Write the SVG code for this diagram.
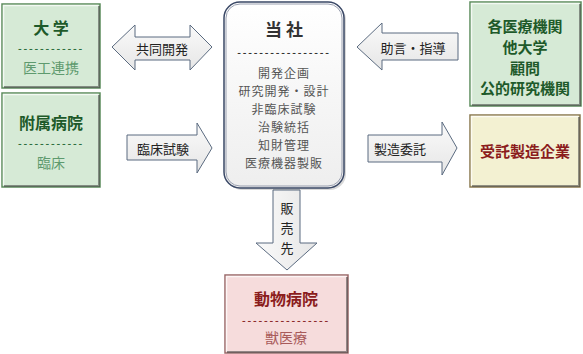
<svg xmlns="http://www.w3.org/2000/svg" width="583" height="354" viewBox="0 0 583 354">
<defs>
<linearGradient id="gArrow" x1="0" y1="0" x2="0" y2="1"><stop offset="0" stop-color="#fafafa"/><stop offset="1" stop-color="#e6e6e6"/></linearGradient>
<linearGradient id="gArrowV" x1="0" y1="0" x2="1" y2="0"><stop offset="0" stop-color="#fafafa"/><stop offset="1" stop-color="#e6e6e6"/></linearGradient>
<linearGradient id="gCo" x1="0" y1="0" x2="0" y2="1"><stop offset="0" stop-color="#ffffff"/><stop offset="1" stop-color="#eeeeee"/></linearGradient>
</defs>
<style>
.green{fill:#d6ead6;stroke:#5c8c5c;stroke-width:1.5}
.yellow{fill:#f3f1d2;stroke:#8a7a50;stroke-width:1.5}
.pink{fill:#f6dcdc;stroke:#9a6a6a;stroke-width:1.5}
.hl{fill:none;stroke:#ffffff;stroke-opacity:.7;stroke-width:1.5}
.sh{fill:none;stroke:#404040;stroke-opacity:.55;stroke-width:2}
.arrow{fill:url(#gArrow);stroke:#5b6b80;stroke-width:1}
.t{font-family:"Noto Sans CJK JP","Noto Sans",sans-serif;text-anchor:middle;dominant-baseline:central}
.hg{font-size:16px;font-weight:bold;fill:#1e5a2a}
.sg{font-size:14px;fill:#5e9a6e}
.dash{font-size:10px;font-weight:bold;letter-spacing:1.8px}
.dg{fill:#2e6e3e}
.dr{fill:#8b2c2c}
.dc{fill:#333333}
.hr{font-size:16px;font-weight:bold;fill:#8b1c1c}
.sr{font-size:14px;fill:#a85a5a}
.hc{font-size:17px;font-weight:bold;fill:#333333}
.item{font-size:12px;letter-spacing:1px;fill:#555555}
.lab{font-size:13px;fill:#222222}
</style>

<g id="connectors">
  <path class="arrow" d="M112,47 L135,25 L135,37 L190,37 L190,25 L212,47 L190,70 L190,60 L135,60 L135,70 Z"/>
  <text class="t lab" x="162" y="48">共同開発</text>
  <path class="arrow" d="M127,135 L197,135 L197,123 L212,148 L197,173 L197,160 L127,160 Z"/>
  <text class="t lab" x="163" y="148">臨床試験</text>
  <path class="arrow" d="M357,47 L382,23 L382,33 L458,33 L458,60 L382,60 L382,70 Z"/>
  <text class="t lab" x="413" y="47">助言・指導</text>
  <path class="arrow" d="M368,135 L442,135 L442,122 L457,148 L442,175 L442,162 L368,162 Z"/>
  <text class="t lab" x="400" y="148">製造委託</text>
  <path class="arrow" style="fill:url(#gArrowV)" d="M273,190 L300,190 L300,243 L317,243 L287,270 L256,243 L273,243 Z"/>
  <text class="t lab" x="287" y="207">販</text>
  <text class="t lab" x="287" y="227">売</text>
  <text class="t lab" x="287" y="247">先</text>
</g>

<g id="daigaku">
  <rect class="green" x="2" y="4" width="98" height="84"/>
  <path class="hl" d="M3.5,86.5 V5.5 H98.5"/>
  <path class="sh" d="M4,87 H99 V6"/>
  <text class="t hg" x="51" y="27">大 学</text>
  <text class="t dash dg" x="51" y="47">------------</text>
  <text class="t sg" x="51" y="67">医工連携</text>
</g>

<g id="fuzoku">
  <rect class="green" x="2" y="93" width="98" height="94"/>
  <path class="hl" d="M3.5,185.5 V94.5 H98.5"/>
  <path class="sh" d="M4,186 H99 V95"/>
  <text class="t hg" x="51" y="122">附属病院</text>
  <text class="t dash dg" x="51" y="142">------------</text>
  <text class="t sg" x="51" y="162">臨床</text>
</g>

<g id="tousha">
  <rect x="226" y="4" width="120" height="186" rx="16" fill="#000" fill-opacity=".15"/>
  <rect x="224" y="2" width="120" height="186" rx="16" fill="url(#gCo)" stroke="#3a4866" stroke-width="1.5"/>
  <rect x="226" y="4" width="116" height="182" rx="14" fill="none" stroke="#9aa0b0" stroke-width="1"/>
  <text class="t hc" x="284" y="28">当 社</text>
  <text class="t dash dc" x="284" y="51">-----------------</text>
  <text class="t item" x="284" y="72">開発企画</text>
  <text class="t item" x="284" y="90">研究開発・設計</text>
  <text class="t item" x="284" y="108">非臨床試験</text>
  <text class="t item" x="284" y="126">治験統括</text>
  <text class="t item" x="284" y="144">知財管理</text>
  <text class="t item" x="284" y="162">医療機器製販</text>
</g>

<g id="kikan">
  <rect class="green" x="470" y="2" width="111" height="104"/>
  <path class="hl" d="M471.5,104.5 V3.5 H579.5"/>
  <path class="sh" d="M472,105 H580 V4"/>
  <text class="t hg" x="525" y="25" style="font-size:15px">各医療機関</text>
  <text class="t hg" x="525" y="46" style="font-size:15px">他大学</text>
  <text class="t hg" x="525" y="67" style="font-size:15px">顧問</text>
  <text class="t hg" x="525" y="87" style="font-size:15px">公的研究機関</text>
</g>

<g id="jutaku">
  <rect class="yellow" x="470" y="115" width="110" height="72"/>
  <path class="hl" d="M471.5,185.5 V116.5 H578.5"/>
  <path class="sh" d="M472,186 H579 V117"/>
  <text class="t hr" x="525" y="150" style="font-size:15px">受託製造企業</text>
</g>

<g id="doubutsu">
  <rect class="pink" x="225" y="275" width="123" height="78"/>
  <path class="hl" d="M226.5,351.5 V276.5 H346.5"/>
  <path class="sh" d="M227,352 H347 V277"/>
  <text class="t hr" x="286" y="298">動物病院</text>
  <text class="t dash dr" x="286" y="319">----------------</text>
  <text class="t sr" x="286" y="337">獣医療</text>
</g>
</svg>
